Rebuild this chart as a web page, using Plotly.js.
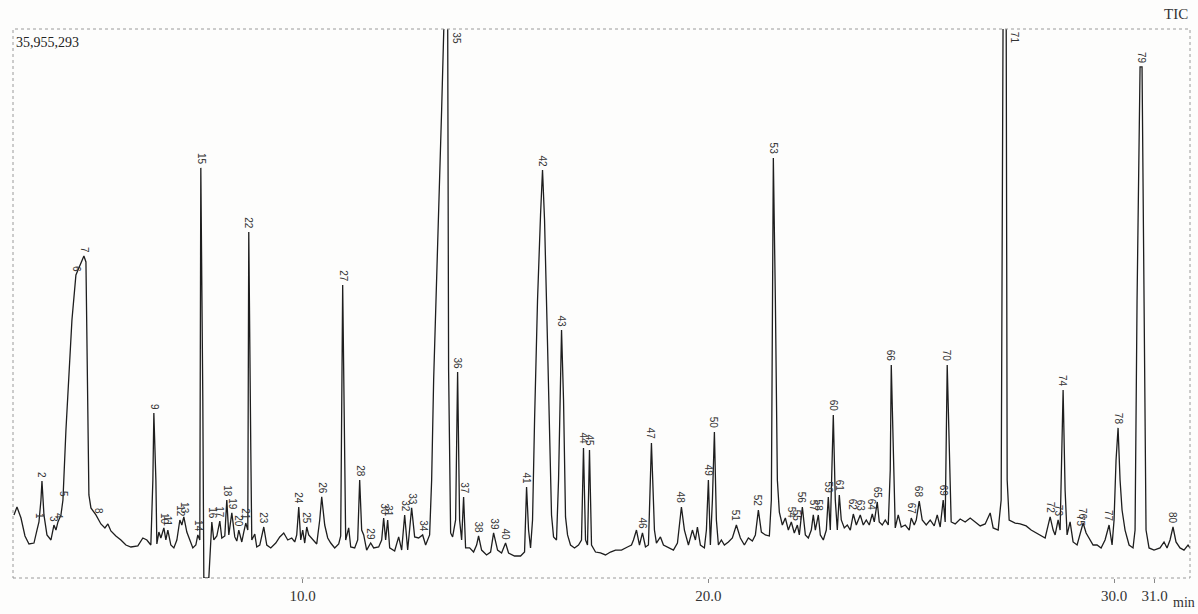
<!DOCTYPE html>
<html>
<head>
<meta charset="utf-8">
<script src="https://cdn.plot.ly/plotly-3.0.1.min.js"></script>
<style>
html,body{margin:0;padding:0;background:#fdfdfc;}
#chart{width:1198px;height:614px;}
</style>
</head>
<body>
<div id="chart"></div>
<script>
// Retention time (min)
const retentionTime = [
2.882,2.956,3.055,3.153,3.252,3.375,3.449,3.498,3.547,3.572,3.621,3.695,3.794,3.867,3.917,3.966,4.040,4.089,
4.163,4.237,4.311,4.409,4.508,4.606,4.656,4.705,4.729,4.779,4.902,5.025,5.124,5.197,5.271,5.394,5.518,5.641,
5.764,5.936,6.059,6.158,6.256,6.306,6.330,6.380,6.404,6.454,6.503,6.577,6.626,6.675,6.749,6.823,6.897,6.971,
7.020,7.069,7.143,7.217,7.291,7.365,7.414,7.463,7.488,7.537,7.562,7.685,7.710,7.759,7.808,7.882,7.956,8.005,
8.079,8.128,8.178,8.252,8.325,8.375,8.424,8.498,8.547,8.596,8.646,8.670,8.720,8.744,8.818,8.867,8.941,9.040,
9.114,9.212,9.335,9.434,9.532,9.631,9.729,9.803,9.852,9.902,9.951,10.000,10.049,10.099,10.148,10.247,10.345,
10.419,10.468,10.542,10.616,10.690,10.788,10.887,10.936,10.985,11.035,11.059,11.133,11.183,11.281,11.355,11.404,
11.453,11.503,11.576,11.675,11.749,11.872,11.946,11.995,12.044,12.094,12.143,12.266,12.365,12.439,12.513,12.587,
12.685,12.759,12.857,12.956,13.030,13.128,13.178,13.227,13.326,13.424,13.498,13.572,13.596,13.621,13.646,13.695,
13.769,13.818,13.867,13.917,13.966,14.015,14.114,14.212,14.286,14.335,14.409,14.532,14.631,14.705,14.803,14.902,
15.000,15.074,15.222,15.370,15.468,15.518,15.567,15.616,15.665,15.715,15.788,15.862,15.911,15.961,16.010,16.035,
16.084,16.133,16.183,16.256,16.306,16.380,16.429,16.478,16.528,16.601,16.700,16.798,16.872,16.921,16.971,17.020,
17.069,17.119,17.217,17.340,17.463,17.586,17.710,17.857,18.005,18.104,18.153,18.227,18.301,18.375,18.449,18.522,
18.596,18.670,18.719,18.818,18.892,19.015,19.138,19.237,19.335,19.409,19.508,19.606,19.680,19.729,19.803,19.901,
19.951,20.000,20.049,20.099,20.148,20.197,20.247,20.320,20.394,20.493,20.591,20.690,20.788,20.887,20.985,21.084,
21.158,21.232,21.306,21.404,21.503,21.552,21.601,21.651,21.700,21.749,21.823,21.897,21.971,22.044,22.118,22.193,
22.242,22.316,22.390,22.463,22.537,22.586,22.636,22.710,22.759,22.833,22.907,22.956,23.005,23.079,23.128,23.178,
23.227,23.276,23.350,23.424,23.498,23.572,23.646,23.744,23.818,23.892,23.966,24.040,24.089,24.163,24.212,24.286,
24.360,24.434,24.483,24.508,24.557,24.606,24.680,24.754,24.853,24.951,25.000,25.074,25.124,25.197,25.271,25.370,
25.468,25.567,25.641,25.714,25.788,25.837,25.887,25.936,25.985,26.084,26.207,26.330,26.453,26.577,26.700,26.823,
26.946,27.020,27.143,27.217,27.266,27.340,27.365,27.414,27.562,27.685,27.833,27.956,28.079,28.202,28.301,28.424,
28.498,28.547,28.621,28.670,28.744,28.793,28.842,28.916,28.990,29.089,29.187,29.237,29.311,29.384,29.483,29.581,
29.680,29.778,29.877,29.951,30.000,30.049,30.099,30.148,30.197,30.271,30.370,30.468,30.518,30.567,30.641,30.690,
30.739,30.788,30.862,30.985,31.133,31.232,31.306,31.380,31.453,31.527,31.626,31.724,31.823,31.872
];
// TIC intensity (millions of counts)
const intensity = [
4.13,4.65,3.93,2.75,2.23,2.29,3.14,3.67,5.11,6.35,4.13,2.82,2.49,3.47,3.14,3.67,4.13,5.11,
9.69,12.97,16.90,19.85,20.50,21.09,20.70,11.66,5.44,4.59,4.13,3.54,3.28,3.54,3.08,2.75,2.49,2.16,
2.03,2.10,2.62,2.49,2.16,6.42,10.81,6.42,2.23,3.01,2.62,3.28,2.49,3.14,2.16,1.97,2.49,3.80,
3.47,4.00,3.01,2.49,1.97,2.16,2.82,2.49,26.86,11.66,0.00,0.00,1.18,3.67,2.49,2.75,3.73,2.62,
2.75,5.11,2.82,4.26,2.69,2.42,3.14,2.36,3.01,3.60,3.14,22.66,8.38,2.49,2.88,2.03,2.16,3.34,
2.16,1.97,2.29,2.69,2.95,2.49,2.62,2.36,2.82,4.65,2.49,3.14,2.29,3.34,2.82,2.49,2.23,
3.80,5.31,3.47,2.62,2.29,1.97,2.23,2.75,19.19,7.73,2.49,3.28,2.03,1.97,2.49,6.42,
3.14,2.82,1.83,2.29,1.97,2.03,2.49,3.93,2.49,3.80,1.97,1.77,2.69,1.83,4.13,1.83,
4.59,2.69,2.62,2.82,2.16,2.82,6.42,12.97,21.48,30.65,38.00,38.00,13.62,6.42,2.95,2.69,
3.80,13.49,3.80,2.49,5.31,1.97,1.97,1.70,2.16,2.75,1.83,1.51,1.70,2.95,1.83,1.64,
2.29,1.64,1.44,1.44,1.70,5.96,3.14,1.97,3.80,10.35,18.21,23.78,26.72,23.45,19.06,15.26,
9.69,4.13,2.69,2.49,6.42,16.24,11.66,4.00,2.82,2.16,1.97,2.16,2.49,8.52,2.49,2.16,
8.38,2.16,1.70,1.64,1.51,1.70,1.83,1.83,2.03,2.16,2.49,3.14,2.16,2.95,2.03,2.16,
8.84,3.14,2.29,2.69,2.16,1.97,1.83,2.29,4.65,3.14,2.16,3.14,2.49,3.34,2.16,1.97,
3.14,6.42,2.16,5.11,9.56,3.80,2.16,2.49,2.16,2.36,2.62,3.47,2.62,2.16,2.62,2.42,
2.82,4.45,3.01,2.82,2.75,5.11,27.51,18.21,6.42,4.32,3.47,3.93,3.14,3.67,2.95,3.47,
2.82,4.65,2.82,2.62,3.14,4.13,3.14,4.13,2.82,2.49,3.14,5.31,3.14,10.68,5.11,3.14,
5.44,3.80,3.28,3.47,3.14,4.19,3.47,4.13,3.47,3.80,3.47,4.19,3.67,4.98,3.67,3.47,
3.80,3.47,7.07,13.95,8.38,3.28,4.13,3.34,3.47,3.14,3.93,3.47,3.80,5.04,3.80,3.47,
3.80,3.41,4.13,3.34,5.11,3.67,13.95,8.38,3.67,3.54,3.86,3.67,3.93,3.67,3.41,3.54,
4.26,3.28,3.14,5.11,38.00,38.00,6.42,3.80,3.60,3.54,3.41,3.14,2.95,2.75,2.62,4.00,
3.14,2.82,3.80,3.14,12.31,5.76,2.82,3.67,2.36,2.16,3.14,3.60,2.95,2.62,2.16,2.16,
1.97,2.49,3.47,2.16,3.80,7.73,9.83,6.42,4.45,3.14,2.16,1.97,3.14,18.21,33.47,33.47,
18.21,3.14,1.97,1.83,1.97,2.36,1.97,2.49,3.34,2.36,1.97,1.83,2.16,1.97
];
// Peak numbers, retention times (min), apex heights (millions of counts)
const peakNumber = [1,2,3,4,5,6,7,8,9,10,11,12,13,14,15,16,17,18,19,20,21,22,23,24,25,26,27,28,29,30,
31,32,33,34,35,36,37,38,39,40,41,42,43,44,45,46,47,48,49,50,51,52,53,54,55,56,57,58,59,60,
61,62,63,64,65,66,67,68,69,70,71,72,73,74,75,76,77,78,79,80];
const peakTime = [3.498,3.572,3.867,3.966,4.089,4.409,4.606,4.950,6.330,6.577,6.675,6.971,7.069,7.414,7.488,
7.759,7.956,8.128,8.252,8.424,8.596,8.670,9.040,9.902,10.099,10.468,10.985,11.404,11.675,11.995,
12.094,12.513,12.685,12.956,13.535,13.818,13.966,14.335,14.705,15.000,15.518,15.911,16.380,16.921,17.069,
18.375,18.596,19.335,20.000,20.148,20.690,21.232,21.601,22.044,22.193,22.316,22.586,22.710,22.956,23.079,
23.227,23.572,23.744,24.040,24.163,24.508,25.000,25.197,25.788,25.887,27.303,28.424,28.621,28.744,29.187,
29.237,29.877,30.099,30.665,31.453];
const peakHeight = [3.67,6.35,3.47,3.67,5.11,19.85,21.09,4.00,10.81,3.28,3.14,3.80,4.00,2.82,26.86,
3.67,3.73,5.11,4.26,3.14,3.60,22.66,3.34,4.65,3.34,5.31,19.19,6.42,2.29,3.93,
3.80,4.13,4.59,2.82,38.00,13.49,5.31,2.75,2.95,2.29,5.96,26.72,16.24,8.52,8.38,
2.95,8.84,4.65,6.42,9.56,3.47,4.45,27.51,3.67,3.47,4.65,4.13,4.13,5.31,10.68,
5.44,4.19,4.13,4.19,4.98,13.95,3.93,5.04,5.11,13.95,38.00,4.00,3.80,12.31,3.14,
3.60,3.47,9.83,33.47,3.34];
const fullScale = 35.955293; // millions of counts
const fullScaleLabel = '35,955,293';
const xTicks = [10, 20, 30, 31];
const xTickText = ["10.0", "20.0", "30.0", "31.0"];

const serif = 'Liberation Serif, Times New Roman, serif';
const annotations = peakNumber.map((n, i) => {
  const off = peakHeight[i] > fullScale;
  return {
    x: peakTime[i], y: off ? fullScale : peakHeight[i],
    xref: 'x', yref: 'y', text: String(n), showarrow: false,
    textangle: 90, xanchor: off ? 'left' : 'center', yanchor: off ? 'top' : 'bottom',
    xshift: off ? 3 : 0, yshift: off ? -1 : 1,
    font: {family: 'Liberation Sans, Arial, sans-serif', size: 10, color: '#333'}
  };
});
annotations.push(
  {x: 0.001, y: 0.993, xref: 'paper', yref: 'paper', xanchor: 'left', yanchor: 'top', showarrow: false,
   text: fullScaleLabel, font: {family: serif, size: 14, color: '#222'}},
  {xref: 'paper', yref: 'paper', x: 1.006, y: -0.028, xanchor: 'right', yanchor: 'top', showarrow: false,
   text: 'min', font: {family: serif, size: 14, color: '#333'}},
  {xref: 'paper', yref: 'paper', x: 1.0, y: 1.0, xanchor: 'right', yanchor: 'bottom', yshift: 5, showarrow: false,
   text: 'TIC', font: {family: serif, size: 15, color: '#333'}}
);

const layout = {
  width: 1198, height: 614,
  margin: {l: 13, r: 8, t: 29, b: 36},
  paper_bgcolor: '#fdfdfc', plot_bgcolor: '#fdfdfc',
  showlegend: false,
  xaxis: {
    range: [2.858, 31.872], tickvals: xTicks, ticktext: xTickText,
    ticks: 'outside', ticklen: 4, tickcolor: '#888', showgrid: false, zeroline: false,
    showline: false, tickfont: {family: serif, size: 15, color: '#333'}
  },
  yaxis: {range: [0, fullScale], showticklabels: false, showgrid: false, zeroline: false, ticks: '', showline: false},
  shapes: [
    {type: 'rect', xref: 'paper', yref: 'paper', x0: 0, x1: 1, y0: 0, y1: 1,
     line: {color: '#9a9a9a', width: 1, dash: 'dot'}}
  ],
  annotations: annotations
};

Plotly.newPlot('chart', [{
  x: retentionTime, y: intensity, type: 'scatter', mode: 'lines',
  line: {color: '#1e1e1e', width: 1.3}, hoverinfo: 'x+y'
}], layout, {staticPlot: true});
</script>
</body>
</html>
